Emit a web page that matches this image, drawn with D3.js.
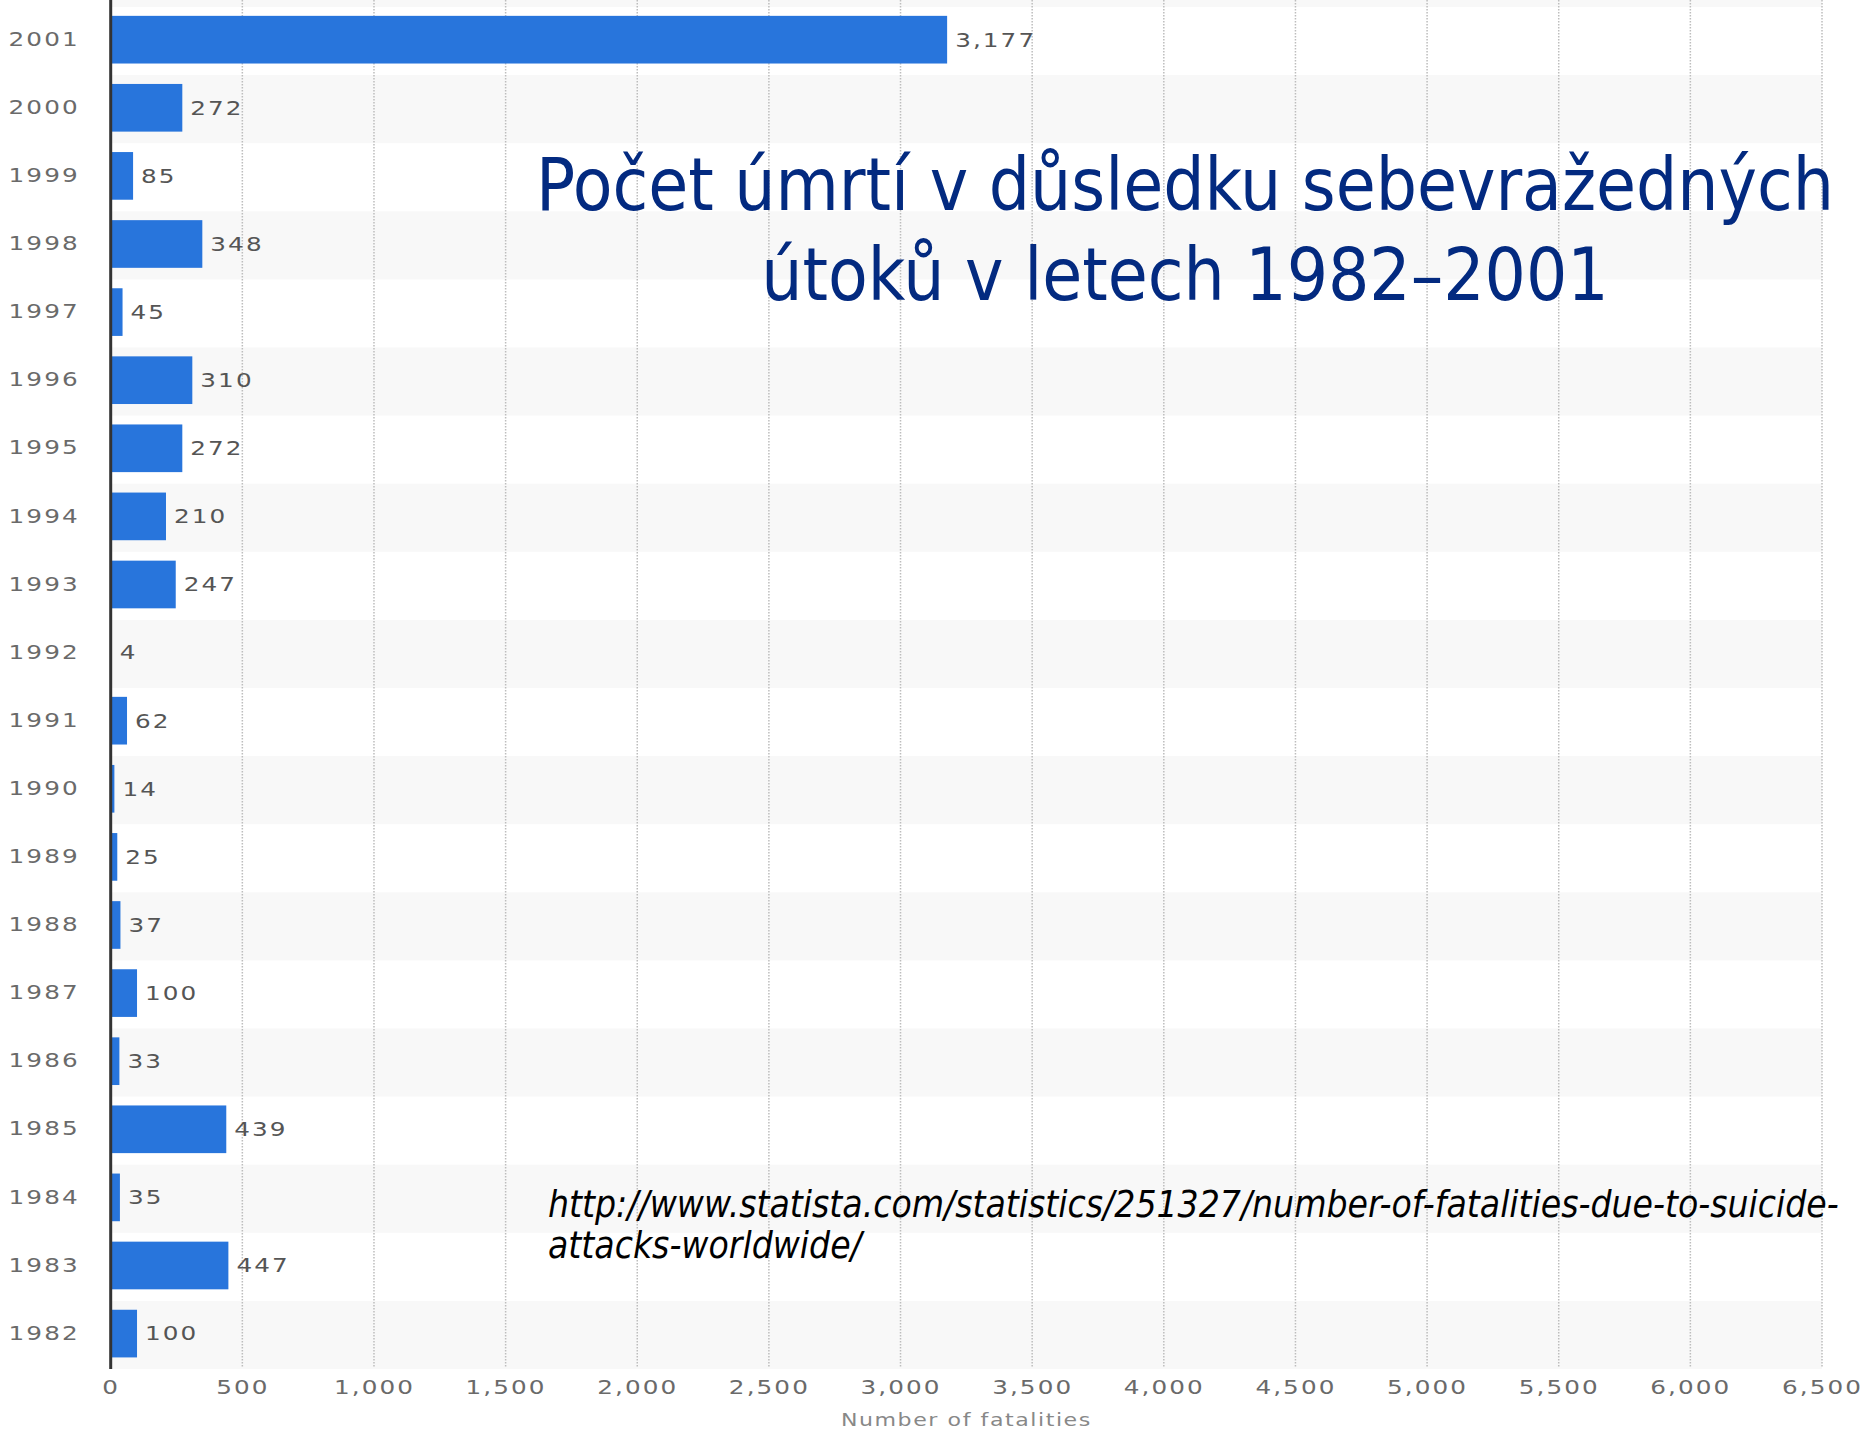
<!DOCTYPE html>
<html>
<head>
<meta charset="utf-8">
<script src="https://cdn.jsdelivr.net/npm/d3@7"></script>
<style>
  body { margin: 0; background: #fff; }
  svg { display: block; }
</style>
</head>
<body>
<div id="chart"></div>
<script>
// data
var years = ["2001","2000","1999","1998","1997","1996","1995","1994","1993","1992",
             "1991","1990","1989","1988","1987","1986","1985","1984","1983","1982"]
var fatalities = [3177, 272, 85, 348, 45, 310, 272, 210, 247, 4,
                  62, 14, 25, 37, 100, 33, 439, 35, 447, 100]
var xTicks = [0,500,1000,1500,2000,2500,3000,3500,4000,4500,5000,5500,6000,6500]
var titleLines = ["Počet úmrtí v důsledku sebevražedných", "útoků v letech 1982–2001"]
var sourceLines = ["http://www.statista.com/statistics/251327/number-of-fatalities-due-to-suicide-",
                   "attacks-worldwide/"]

var w = 1866, h = 1430
var stretch = 1.3   // chart text in the picture is stretched sideways

var svg = d3.select("#chart").append("svg")
  .attr("width", w)
  .attr("height", h)

var x = d3.scaleLinear().domain([0, 6500]).range([110.7, 1822])
var rows = d3.scaleBand().domain(years).range([7, 1369]).padding(0)

var data = years.map(function(y, i) { return {year: y, value: fatalities[i], i: i} })

// row shading
svg.append("rect")
  .attr("x", x(0)).attr("y", 0)
  .attr("width", x(6500) - x(0)).attr("height", rows.range()[0])
  .attr("fill", "#f8f8f8")
svg.append("g").selectAll("rect")
  .data(data.filter(function(d) { return d.i % 2 == 1 }))
  .enter().append("rect")
  .attr("x", x(0))
  .attr("y", function(d) { return rows(d.year) })
  .attr("width", x(6500) - x(0))
  .attr("height", rows.bandwidth())
  .attr("fill", "#f8f8f8")

// dotted gridlines
svg.append("g").selectAll("line")
  .data(xTicks.slice(1))
  .enter().append("line")
  .attr("x1", function(d) { return x(d) })
  .attr("x2", function(d) { return x(d) })
  .attr("y1", 0).attr("y2", rows.range()[1] - 2)
  .attr("stroke", "#bdbdbd")
  .attr("stroke-width", 1.5)
  .attr("stroke-dasharray", "1.5,1.5")

// bars
svg.append("g").selectAll("rect")
  .data(data)
  .enter().append("rect")
  .attr("x", x(0))
  .attr("y", function(d) { return rows(d.year) + rows.bandwidth() * 0.13 })
  .attr("width", function(d) { return x(d.value) - x(0) })
  .attr("height", rows.bandwidth() * 0.7)
  .attr("fill", "#2875dc")

// value labels
svg.append("g").selectAll("g")
  .data(data)
  .enter().append("g")
  .attr("transform", function(d) {
    return "translate(" + (x(d.value) + 8) + "," + (rows(d.year) + rows.bandwidth() * 0.48) + ")"
  })
  .append("text")
  .attr("transform", "scale(" + stretch + ",1)")
  .attr("dy", "0.36em")
  .style("font-family", "DejaVu Sans")
  .style("font-size", "19px")
  .style("letter-spacing", "1.6px")
  .attr("fill", "#555")
  .text(function(d) { return d3.format(",")(d.value) })

// y axis (years)
var yAxis = svg.append("g")
  .attr("transform", "translate(" + x(0) + ",0)")
  .call(d3.axisLeft(rows).tickSize(0).tickPadding(0))
yAxis.select(".domain").remove()
yAxis.selectAll("text")
  .attr("x", -31 / stretch)
  .attr("dy", "0.25em")
  .attr("transform", "scale(" + stretch + ",1)")
  .style("font-family", "DejaVu Sans")
  .style("font-size", "19px")
  .style("letter-spacing", "1.6px")
  .attr("fill", "#6a6a6a")

// x axis
var xAxis = svg.append("g")
  .attr("transform", "translate(0," + rows.range()[1] + ")")
  .call(d3.axisBottom(x).tickValues(xTicks).tickFormat(d3.format(",")).tickSize(0).tickPadding(12))
xAxis.select(".domain").remove()
xAxis.selectAll("text")
  .attr("transform", "scale(" + stretch + ",1)")
  .style("font-family", "DejaVu Sans")
  .style("font-size", "19px")
  .style("letter-spacing", "1.6px")
  .attr("fill", "#6a6a6a")

// dark zero line
svg.append("line")
  .attr("x1", x(0)).attr("x2", x(0))
  .attr("y1", 0).attr("y2", rows.range()[1])
  .attr("stroke", "#333")
  .attr("stroke-width", 3)

svg.append("g")
  .attr("transform", "translate(" + (x(0) + x(6500)) / 2 + ",1420)")
  .append("text")
  .attr("transform", "scale(" + stretch + ",1)")
  .attr("text-anchor", "middle")
  .attr("dy", "0.36em")
  .style("font-family", "DejaVu Sans")
  .style("font-size", "17px")
  .style("letter-spacing", "1.2px")
  .attr("fill", "#888")
  .text("Number of fatalities")

// squeeze or widen a group of lines so the first one spans the given width
function fitLines(texts, anchorX, width) {
  var k = width / texts.nodes()[0].getComputedTextLength()
  texts.attr("transform", "translate(" + anchorX + ",0) scale(" + k + ",1) translate(" + (-anchorX) + ",0)")
}

// title
var title = svg.append("g").selectAll("text")
  .data(titleLines)
  .enter().append("text")
  .attr("x", 1185)
  .attr("y", function(d, i) { return 210 + i * 90 })
  .attr("text-anchor", "middle")
  .style("font-family", "'DejaVu Sans Condensed', 'DejaVu Sans', sans-serif")
  .style("font-size", "73px")
  .attr("fill", "#032a80")
  .text(function(d) { return d })
fitLines(title, 1185, 1298)

// source url
var source = svg.append("g").selectAll("text")
  .data(sourceLines)
  .enter().append("text")
  .attr("x", 548)
  .attr("y", function(d, i) { return 1217 + i * 41 })
  .style("font-family", "'DejaVu Sans Condensed', 'DejaVu Sans', sans-serif")
  .style("font-style", "italic")
  .style("font-size", "38px")
  .attr("fill", "#000")
  .text(function(d) { return d })
fitLines(source, 548, 1291)
</script>
</body>
</html>
